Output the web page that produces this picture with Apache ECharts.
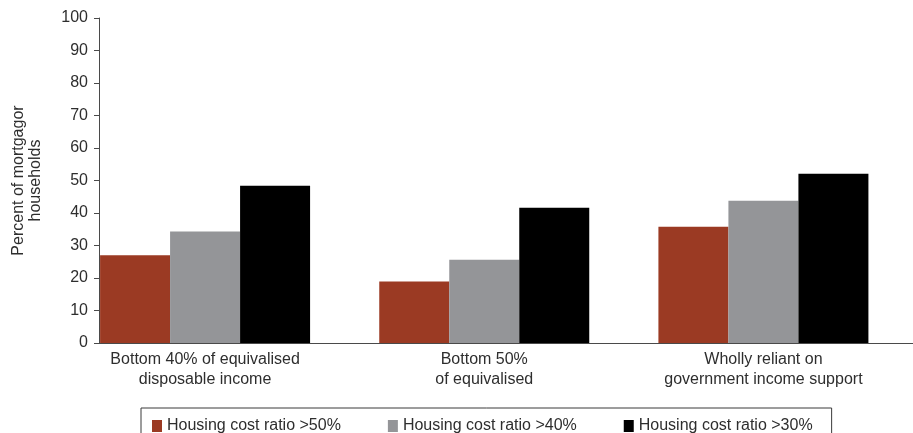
<!DOCTYPE html>
<html>
<head>
<meta charset="utf-8">
<script src="https://cdn.jsdelivr.net/npm/echarts@6/dist/echarts.min.js"></script>
<style>
  html, body { margin: 0; padding: 0; background: #fff; }
  #chart { width: 913px; height: 433px; }
</style>
</head>
<body>
<div id="chart"></div>
<script>
// Household groups shown along the horizontal axis
const categories = [
  'Bottom 40% of equivalised\ndisposable income',
  'Bottom 50%\nof equivalised',
  'Wholly reliant on\ngovernment income support'
];

// Share of mortgagor households (%) above each housing cost ratio
const ratioOver50 = [27.0, 18.9, 35.8];
const ratioOver40 = [34.3, 25.6, 43.8];
const ratioOver30 = [48.4, 41.6, 52.1];

const seriesNames = [
  'Housing cost ratio >50%',
  'Housing cost ratio >40%',
  'Housing cost ratio >30%'
];

const yTicks = { min: 0, max: 100, interval: 10 };

const FONT = '"Liberation Sans", Arial, Helvetica, sans-serif';
const TEXT = '#2e2e2e';
const AXIS = '#4a4a4a';
const colors = ['#9b3a23', '#949598', '#000000'];

const chart = echarts.init(document.getElementById('chart'), null, { renderer: 'canvas' });

chart.setOption({
  animation: false,
  backgroundColor: '#ffffff',
  textStyle: { fontFamily: FONT },
  color: colors,
  legend: {
    left: 141,
    top: 408,
    itemWidth: 10,
    itemHeight: 12,
    itemGap: 47,
    padding: [10, 19, 20, 11],
    borderColor: '#3a3a3a',
    borderWidth: 1,
    icon: 'rect',
    textStyle: { fontFamily: FONT, fontSize: 16, color: TEXT },
    data: seriesNames
  },
  grid: [
    // frame: y axis and the baseline
    { left: 99, right: 0, top: 18, bottom: 90 },
    // bars and category labels
    { left: 65.5, right: 10, top: 18, bottom: 90 }
  ],
  xAxis: [
    {
      gridIndex: 0,
      type: 'value',
      min: 0,
      max: 1,
      axisLine: { show: true, onZero: false, lineStyle: { color: AXIS, width: 1 } },
      axisTick: { show: false },
      axisLabel: { show: false },
      splitLine: { show: false }
    },
    {
      gridIndex: 1,
      type: 'category',
      data: categories,
      axisLine: { show: false },
      axisTick: { show: false },
      axisLabel: {
        fontFamily: FONT,
        fontSize: 16,
        color: TEXT,
        lineHeight: 20,
        margin: 7,
        interval: 0
      }
    }
  ],
  yAxis: [
    {
      gridIndex: 0,
      type: 'value',
      min: yTicks.min,
      max: yTicks.max,
      interval: yTicks.interval,
      name: 'Percent of mortgagor\nhouseholds',
      nameLocation: 'middle',
      nameRotate: 90,
      nameGap: 55,
      nameTextStyle: { fontFamily: FONT, fontSize: 16, color: TEXT, lineHeight: 17, align: 'center' },
      axisLine: { show: true, lineStyle: { color: AXIS, width: 1 } },
      axisTick: { show: true, length: 5, lineStyle: { color: AXIS } },
      axisLabel: { fontFamily: FONT, fontSize: 16, color: TEXT, margin: 11 },
      splitLine: { show: false }
    },
    {
      gridIndex: 1,
      type: 'value',
      min: yTicks.min,
      max: yTicks.max,
      show: false
    }
  ],
  series: [
    { name: seriesNames[0], type: 'bar', xAxisIndex: 1, yAxisIndex: 1, data: ratioOver50, barWidth: 70, barGap: '0%' },
    { name: seriesNames[1], type: 'bar', xAxisIndex: 1, yAxisIndex: 1, data: ratioOver40, barWidth: 70, barGap: '0%' },
    { name: seriesNames[2], type: 'bar', xAxisIndex: 1, yAxisIndex: 1, data: ratioOver30, barWidth: 70, barGap: '0%' }
  ]
});
</script>
</body>
</html>
